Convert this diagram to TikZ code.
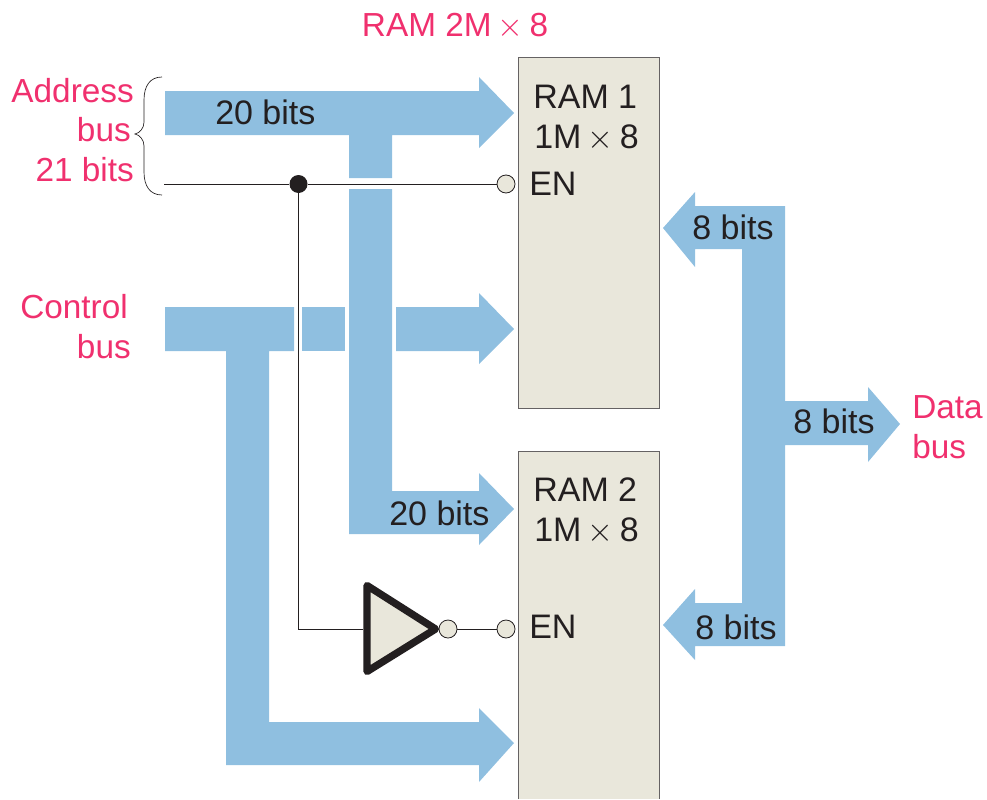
\documentclass[tikz,border=0pt]{standalone}
\usepackage{fontspec}
\setmainfont{Liberation Sans}
\definecolor{busblue}{RGB}{143,191,224}
\definecolor{rampink}{RGB}{240,48,110}
\definecolor{ramfill}{RGB}{233,231,219}
\definecolor{inkdark}{RGB}{35,31,32}
\tikzset{
  bus/.style={fill=busblue},
  ramblock/.style={draw=inkdark!70,fill=ramfill,line width=0.75},
  wire/.style={draw=inkdark,line width=0.7},
  bubble/.style={circle,draw=inkdark,fill=ramfill,line width=0.6,minimum size=13.5pt,inner sep=0pt},
  blacktext/.style={inner sep=0pt,text=inkdark,font=\fontsize{25.5}{30}\selectfont},
  pinktext/.style={inner sep=0pt,text=rampink,font=\fontsize{25}{30}\selectfont},
}
\newcommand{\smalltimes}{\kern-2.4pt$\times$\kern-2.4pt}
\begin{document}
\begin{tikzpicture}[x=0.75pt,y=0.75pt,yscale=-1,xscale=1]
\useasboundingbox (0,0) rectangle (987,799);

%Shape: RAM blocks
\draw [ramblock] (518,58) rectangle (659,408);
\draw [ramblock] (518,799) -- (518,451) -- (659,451) -- (659,799);

%Shape: Address bus arrow
\fill [bus] (165,91) -- (479,91) -- (479,77) -- (514,113) -- (479,148) -- (479,135) -- (392,135) -- (392,178) -- (349,178) -- (349,135) -- (165,135) -- cycle;
%Shape: Address bus down to RAM 2
\fill [bus] (349,189) -- (392,189) -- (392,491) -- (479,491) -- (479,473) -- (514,509) -- (479,545) -- (479,534) -- (349,534) -- cycle;
%Shape: Control bus pieces
\fill [bus] (165,307) -- (294,307) -- (294,351) -- (269,351) -- (269,722) -- (479,722) -- (479,708) -- (514,743) -- (479,782) -- (479,765) -- (226,765) -- (226,351) -- (165,351) -- cycle;
\fill [bus] (302,307) rectangle (345,351);
\fill [bus] (396,307) -- (479,307) -- (479,293) -- (514,329) -- (479,364) -- (479,351) -- (396,351) -- cycle;
%Shape: Data bus
\fill [bus] (663,228) -- (695,192) -- (695,206) -- (785,206) -- (785,401) -- (868,401) -- (868,387) -- (900,424) -- (868,462) -- (868,445) -- (785,445) -- (785,646) -- (695,646) -- (695,660) -- (663,625) -- (695,589) -- (695,603) -- (742,603) -- (742,249) -- (695,249) -- (695,267) -- cycle;

%Shape: Brace
\draw [inkdark,line width=0.5] (162,77) .. controls (150,77) and (144,86) .. (144,100) -- (144,122) .. controls (144,128) and (140,133) .. (135,134) .. controls (140,135) and (144,140) .. (144,146) -- (144,172) .. controls (144,186) and (150,195) .. (162,195);

%Shape: Inverter
\draw [inkdark,fill=ramfill,line width=5.5,line join=round] (367,585.5) -- (435.5,629) -- (367,671.5) -- cycle;

% Wire ends and bubbles
\coordinate (addrstart) at (164,184);
\coordinate (bendlow) at (298.5,629);
\coordinate (invin) at (363,629);
\node (dotjoin) [circle,fill=inkdark,minimum size=13.5pt,inner sep=0pt] at (298.5,184) {};
\node (enone) [bubble] at (506,184) {};
\node (invout) [bubble] at (448,629) {};
\node (entwo) [bubble] at (506,629) {};

%Straight Lines
\draw [wire] (addrstart) -- (dotjoin);
\draw [wire] (dotjoin) -- (enone);
\draw [wire] (dotjoin) -- (bendlow) -- (invin);
\draw [wire] (invout) -- (entwo);

% Text Node
\draw (455,37) node (ramtitle) [pinktext,anchor=base] {RAM 2M \smalltimes{} 8};
% Text Node
\draw (134,102) node (addrword) [pinktext,anchor=base east] {Address};
% Text Node
\draw (131,141) node (addrbus) [pinktext,anchor=base east] {bus};
% Text Node
\draw (134,181) node (addrbits) [pinktext,anchor=base east] {21 bits};
% Text Node
\draw (128,318) node (ctrlword) [pinktext,anchor=base east] {Control};
% Text Node
\draw (131,358) node (ctrlbus) [pinktext,anchor=base east] {bus};
% Text Node
\draw (912,418) node (dataword) [pinktext,anchor=base west] {Data};
% Text Node
\draw (912,458) node (databus) [pinktext,anchor=base west] {bus};
% Text Node
\draw (533,108) node (ramonea) [blacktext,anchor=base west] {RAM 1};
% Text Node
\draw (534,148) node (ramoneb) [blacktext,anchor=base west] {1M \smalltimes{} 8};
% Text Node
\draw (529,195) node (enonetext) [blacktext,anchor=base west] {EN};
% Text Node
\draw (533,501) node (ramtwoa) [blacktext,anchor=base west] {RAM 2};
% Text Node
\draw (534,541) node (ramtwob) [blacktext,anchor=base west] {1M \smalltimes{} 8};
% Text Node
\draw (529,638) node (entwotext) [blacktext,anchor=base west] {EN};
% Text Node
\draw (215,124) node (bitsaddr) [blacktext,anchor=base west] {20 bits};
% Text Node
\draw (389,525) node (bitslow) [blacktext,anchor=base west] {20 bits};
% Text Node
\draw (692,239) node (bitsdataa) [blacktext,anchor=base west] {8 bits};
% Text Node
\draw (793,433) node (bitsdatab) [blacktext,anchor=base west] {8 bits};
% Text Node
\draw (695,639) node (bitsdatac) [blacktext,anchor=base west] {8 bits};

\end{tikzpicture}
\end{document}
